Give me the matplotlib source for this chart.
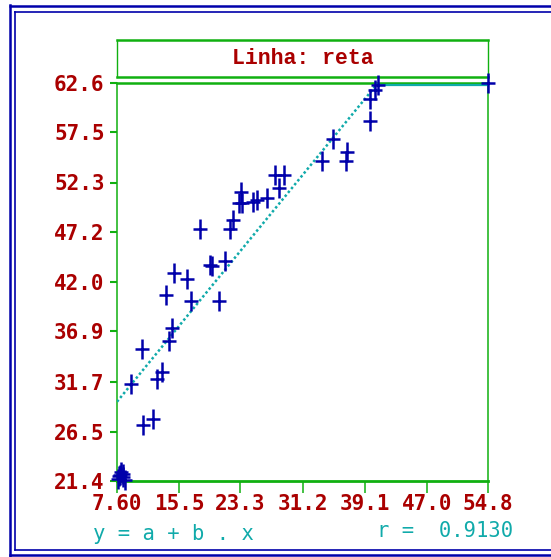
import matplotlib
matplotlib.use("Agg")
import matplotlib.pyplot as plt
import matplotlib.transforms as mtrans
from matplotlib.path import Path

# values
x_ticks = [7.60, 15.5, 23.3, 31.2, 39.1, 47.0, 54.8]
x_labels = ["7.60", "15.5", "23.3", "31.2", "39.1", "47.0", "54.8"]
y_ticks = [21.4, 26.5, 31.7, 36.9, 42.0, 47.2, 52.3, 57.5, 62.6]
y_labels = ["21.4", "26.5", "31.7", "36.9", "42.0", "47.2", "52.3", "57.5", "62.6"]

pts_x = [8.0, 8.4, 7.7, 8.1, 8.6, 9.4, 10.8, 10.9, 12.2, 12.7, 13.3, 14.2, 14.6,
         13.8, 14.9, 16.5, 17.0, 18.2, 19.4, 19.7, 21.3, 20.6, 22.0, 22.4, 23.4,
         23.1, 23.5, 24.9, 25.4, 26.7, 27.7, 28.9, 28.2, 33.7, 35.1, 36.9, 36.7,
         39.8, 39.8, 40.4, 40.8, 54.8, 8.3, 7.9]
pts_y = [22.0, 21.8, 21.6, 22.3, 21.5, 31.4, 35.1, 27.2, 27.8, 32.0, 32.7, 35.9, 37.2,
         40.7, 42.9, 42.3, 40.0, 47.5, 43.8, 43.7, 44.2, 40.0, 47.5, 48.4, 51.3,
         50.2, 50.2, 50.3, 50.5, 50.7, 53.1, 53.1, 51.7, 54.5, 56.8, 55.5, 54.5,
         58.7, 60.9, 61.9, 62.4, 62.6, 22.1, 21.9]

fit_a = 22.05
fit_b = 0.994
r_value = 0.9130
title = "Linha: reta"

W, H = 551, 557
GREEN = "#10B010"
RED = "#AA0000"
CYAN = "#10AAAA"
BLUE = "#0000AA"
MONO = "DejaVu Sans Mono"

fig = plt.figure(figsize=(W / 100, H / 100), dpi=100)
fig.patch.set_facecolor("white")

# pixel canvas for borders and loose text
bg = fig.add_axes([0, 0, 1, 1])
bg.set_xlim(0, W)
bg.set_ylim(H, 0)
bg.axis("off")
bg.plot([9, W], [5.5, 5.5], color=BLUE, lw=1.8, solid_capstyle="butt")
bg.plot([14, W], [12, 12], color=BLUE, lw=1.2, solid_capstyle="butt")
bg.plot([10, 10], [5, 556], color=BLUE, lw=1.8)
bg.plot([14.5, 14.5], [12, 550], color=BLUE, lw=1.2)
bg.plot([10, W], [555, 555], color=BLUE, lw=1.8)
bg.plot([14.5, W], [550, 550], color=BLUE, lw=1.2)

bg.text(93, 534, "y = a + b . x", color=CYAN, family=MONO, fontsize=14.8,
        ha="left", va="center")
bg.text(377, 531, "r =  %.4f" % r_value, color=CYAN, family=MONO, fontsize=14.8,
        ha="left", va="center")

# title box
tb = fig.add_axes([117 / W, (H - 77) / H, 371 / W, 37 / H])
tb.set_xticks([])
tb.set_yticks([])
for side, sp in tb.spines.items():
    sp.set_color(GREEN)
    sp.set_linewidth(1.8 if side in ("top", "bottom") else 1.0)
tb.text(0.5, 0.5, title, transform=tb.transAxes, ha="center", va="center",
        color=RED, family="Liberation Mono", fontweight="bold", fontsize=15.5)

# main plot
ax = fig.add_axes([117 / W, (H - 481) / H, 371 / W, 398 / H])
ax.set_xlim(x_ticks[0], x_ticks[-1])
ax.set_ylim(y_ticks[0], y_ticks[-1])
ax.spines["top"].set_linewidth(1.8)
ax.spines["bottom"].set_linewidth(2.0)
ax.spines["left"].set_linewidth(1.1)
ax.spines["right"].set_linewidth(1.1)
for sp in ax.spines.values():
    sp.set_color(GREEN)

ax.set_xticks(x_ticks)
ax.set_xticklabels(x_labels)
ax.set_yticks(y_ticks)
ax.set_yticklabels(y_labels)
ax.tick_params(axis="x", direction="out", length=8.6, width=1.1, color=GREEN, pad=1)
ax.tick_params(axis="y", direction="out", length=5, width=1.5, color=GREEN, pad=4)
for lab in ax.get_xticklabels() + ax.get_yticklabels():
    lab.set_family(MONO)
    lab.set_fontweight("bold")
    lab.set_fontsize(15)
    lab.set_color(RED)

# fitted line, clipped at the top of the scale
x_cut = (y_ticks[-1] - fit_a) / fit_b
ax.plot([x_ticks[0], x_cut], [fit_a + fit_b * x_ticks[0], y_ticks[-1]],
        color=CYAN, lw=1.8, linestyle=(0, (1, 1)), zorder=3)
low = mtrans.offset_copy(ax.transData, fig=fig, x=0, y=-1.5, units="dots")
ax.plot([x_cut, x_ticks[-1]], [y_ticks[-1], y_ticks[-1]], color=CYAN, lw=1.6,
        transform=low, zorder=3, clip_on=False)

plus = Path([(-0.7, 0), (0.7, 0), (0, -1), (0, 1)],
            [Path.MOVETO, Path.LINETO, Path.MOVETO, Path.LINETO])
ax.plot(pts_x, pts_y, linestyle="none", marker=plus, markersize=14.4,
        mew=1.8, color=BLUE, zorder=4, clip_on=False)

fig.savefig("out.png", dpi=100, facecolor="white")
